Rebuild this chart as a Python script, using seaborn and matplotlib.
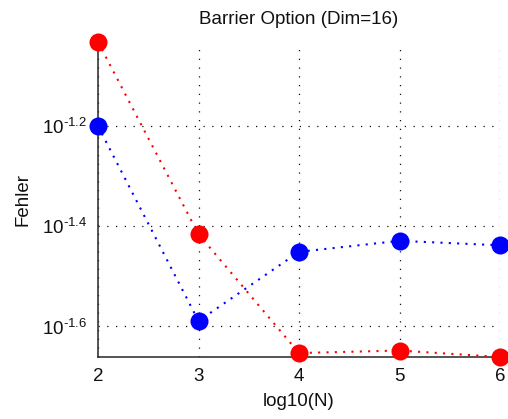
import numpy as np
import pandas as pd
import matplotlib
matplotlib.use("Agg")
import matplotlib.pyplot as plt
from matplotlib.ticker import FixedLocator, FixedFormatter, NullLocator
import seaborn as sns

# Convergence of the error for the barrier option (dimension 16)
log_n = [2, 3, 4, 5, 6]
fehler_rot = [0.0929, 0.0384, 0.02223, 0.02249, 0.02183]
fehler_blau = [0.0631, 0.02576, 0.0354, 0.03724, 0.03648]
y_tick_exponents = [-1.6, -1.4, -1.2]
x_ticks = [2, 3, 4, 5, 6]
title = "Barrier Option (Dim=16)"
x_label = "log10(N)"
y_label = "Fehler"

sns.set_theme(style="white")
plt.rcParams["font.family"] = ["Liberation Sans", "DejaVu Sans"]
plt.rcParams["mathtext.fontset"] = "custom"
plt.rcParams["mathtext.rm"] = "Liberation Sans"
plt.rcParams["mathtext.it"] = "Liberation Sans"
plt.rcParams["mathtext.default"] = "regular"
plt.rcParams["axes.unicode_minus"] = False

df = pd.DataFrame({
    "log10(N)": log_n * 2,
    "Fehler": fehler_rot + fehler_blau,
    "Reihe": ["rot"] * len(log_n) + ["blau"] * len(log_n),
})

W, H = 508, 419
fig = plt.figure(figsize=(W / 100, H / 100), dpi=100)
ax = fig.add_axes([98 / W, 1 - 357 / H, (500 - 98) / W, (357 - 42) / H])

line_kw = dict(linewidth=1.5, marker="o", markersize=13, markeredgewidth=0,
               clip_on=False, zorder=3)
sns.lineplot(data=df[df["Reihe"] == "blau"], x="log10(N)", y="Fehler",
             color="#0000ff", ax=ax, **line_kw)
sns.lineplot(data=df[df["Reihe"] == "rot"], x="log10(N)", y="Fehler",
             color="#ff0000", ax=ax, **line_kw)
for ln in ax.get_lines():
    ln.set_dashes((1.0, 3.0))

ax.set_yscale("log")
all_vals = fehler_rot + fehler_blau
ax.set_ylim(min(all_vals), max(all_vals))
ax.set_xlim(x_ticks[0], x_ticks[-1])

ax.xaxis.set_major_locator(FixedLocator(x_ticks))
ax.set_xticklabels([str(t) for t in x_ticks])
ax.yaxis.set_major_locator(FixedLocator([10 ** e for e in y_tick_exponents]))
ax.yaxis.set_major_formatter(FixedFormatter(
    [r"$10^{\text{%g}}$" % e for e in y_tick_exponents]))
ax.yaxis.set_minor_locator(NullLocator())

ax.grid(True, color="#111111", linewidth=0.9, dashes=(1.0, 6.0))
ax.set_axisbelow(True)

for s in ["top", "right"]:
    ax.spines[s].set_visible(False)
for s in ["left", "bottom"]:
    ax.spines[s].set_color("#262626")
    ax.spines[s].set_linewidth(1.1)

ax.tick_params(axis="both", which="major", direction="in", length=4,
               width=0.8, color="#262626", labelsize=13.5,
               labelcolor="#111111", pad=8)

ax.set_title(title, fontsize=13.5, color="#111111", pad=13)
ax.set_xlabel(x_label, fontsize=13.5, color="#111111", labelpad=6)
ax.set_ylabel(y_label, fontsize=13.5, color="#111111", labelpad=7)

fig.savefig("out.png", dpi=100)
